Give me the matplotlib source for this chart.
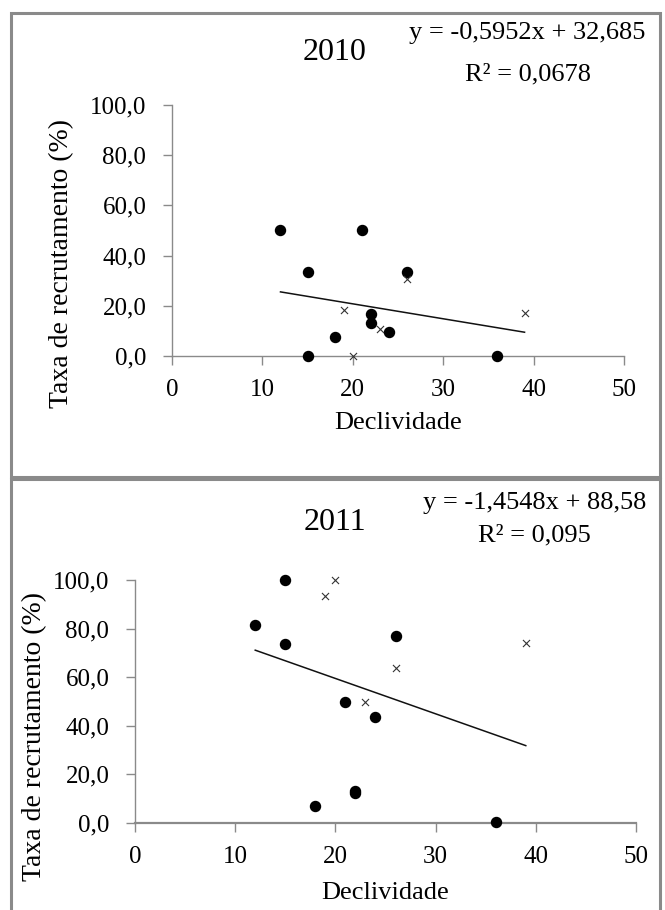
import numpy as np
import matplotlib
matplotlib.use("Agg")
import matplotlib.pyplot as plt
from matplotlib.patches import Rectangle
from matplotlib.ticker import FuncFormatter, MultipleLocator

plt.rcParams['font.family'] = ['Liberation Serif', 'DejaVu Serif']

# recruitment rate vs slope, 2010
dec_2010_dot = [12, 21, 15, 26, 22, 22, 24, 18, 15, 36]
taxa_2010_dot = [50.0, 50.0, 33.3, 33.3, 16.7, 13.3, 9.5, 7.4, 0.0, 0.0]
dec_2010_x = [26, 19, 39, 23, 20]
taxa_2010_x = [30.6, 18.2, 17.3, 10.8, 0.0]
coef_2010 = (-0.5952, 32.685)
r2_2010 = "0,0678"

# recruitment rate vs slope, 2011
dec_2011_dot = [15, 12, 15, 26, 21, 24, 22, 22, 18, 36]
taxa_2011_dot = [100.0, 81.3, 73.5, 76.9, 50.0, 43.6, 13.3, 12.5, 7.1, 0.5]
dec_2011_x = [20, 19, 39, 26, 23]
taxa_2011_x = [100.0, 93.3, 73.9, 63.8, 50.0]
coef_2011 = (-1.4548, 88.58)
r2_2011 = "0,095"

W, H = 665, 910
fig = plt.figure(figsize=(W / 100, H / 100), dpi=100)

GRAY = "#8a8a8a"


def px_rect(x0, y0, x1, y1):
    # axes box from pixel corners (top-left origin)
    return [x0 / W, 1 - y1 / H, (x1 - x0) / W, (y1 - y0) / H]


def comma(v, pos=None, dec=1):
    return f"{v:.{dec}f}".replace(".", ",")


def fmt_coef(v, nd):
    return f"{v:.{nd}f}".replace(".", ",")


def panel(rect, xd, yd, xx, yx, coef, ylab_xy, xlab_xy, spine_lw):
    ax = fig.add_axes(rect)
    ax.scatter(xd, yd, s=52, c="black", marker="o", zorder=3, clip_on=False)
    ax.scatter(xx, yx, s=26, c="#333333", marker="x", linewidths=0.8, zorder=3, clip_on=False)
    xs = np.array([min(xd + xx), max(xd + xx)])
    ax.plot(xs, coef[0] * xs + coef[1], color="#111111", lw=1.1, zorder=2)
    ax.set_xlim(0, 50)
    ax.set_ylim(0, 100)
    ax.xaxis.set_major_locator(MultipleLocator(10))
    ax.yaxis.set_major_locator(MultipleLocator(20))
    ax.yaxis.set_major_formatter(FuncFormatter(comma))
    ax.xaxis.set_major_formatter(FuncFormatter(lambda v, p: f"{int(v)}"))
    for s in ("top", "right"):
        ax.spines[s].set_visible(False)
    ax.spines["left"].set_color(GRAY)
    ax.spines["left"].set_linewidth(1.0)
    ax.spines["bottom"].set_color(GRAY)
    ax.spines["bottom"].set_linewidth(spine_lw)
    ax.tick_params(axis="both", colors=GRAY, length=6.5, width=1.0,
                   labelsize=18, labelcolor="black")
    ax.tick_params(axis="y", pad=12)
    ax.tick_params(axis="x", pad=10)
    ax.set_ylabel("Taxa de recrutamento (%)", fontsize=20, va="center")
    ax.yaxis.set_label_coords(*ylab_xy)
    ax.set_xlabel("Declividade", fontsize=19, va="center")
    ax.xaxis.set_label_coords(*xlab_xy)
    return ax


ax1 = panel(px_rect(172, 105, 624, 356), dec_2010_dot, taxa_2010_dot,
            dec_2010_x, taxa_2010_x, coef_2010, (-0.245, 0.37), (0.5, -0.268), 1.0)
ax2 = panel(px_rect(135, 580, 636, 823), dec_2011_dot, taxa_2011_dot,
            dec_2011_x, taxa_2011_x, coef_2011, (-0.2, 0.354), (0.5, -0.29), 1.6)

# year titles and regression equations
fig.text(335 / W, 1 - 53 / H, "2010", fontsize=23, ha="center", va="center")
fig.text(527 / W, 1 - 33 / H, f"y = {fmt_coef(coef_2010[0], 4)}x + {fmt_coef(coef_2010[1], 3)}",
         fontsize=19, ha="center", va="center")
fig.text(528 / W, 1 - 74 / H, f"R² = {r2_2010}", fontsize=19, ha="center", va="center")

fig.text(335 / W, 1 - 523 / H, "2011", fontsize=23, ha="center", va="center")
fig.text(535 / W, 1 - 503 / H, f"y = {fmt_coef(coef_2011[0], 4)}x + {fmt_coef(coef_2011[1], 2)}",
         fontsize=19, ha="center", va="center")
fig.text(534 / W, 1 - 535 / H, f"R² = {r2_2011}", fontsize=19, ha="center", va="center")

# panel frames
for y0, y1 in [(13, 477), (479, 930)]:
    fig.add_artist(Rectangle((10.5 / W, 1 - y1 / H), (660 - 10.5) / W, (y1 - y0) / H,
                             transform=fig.transFigure, fill=False,
                             edgecolor=GRAY, lw=2.2, clip_on=False))

fig.savefig("out.png", dpi=100)
